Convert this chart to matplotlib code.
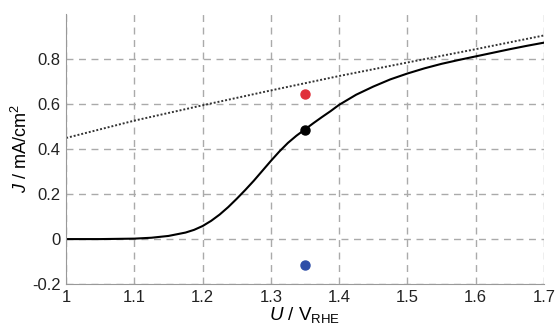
import matplotlib
matplotlib.use("Agg")
import matplotlib.pyplot as plt

plt.rcParams['font.family'] = ['Liberation Sans', 'DejaVu Sans']
plt.rcParams['mathtext.fontset'] = 'custom'
plt.rcParams['mathtext.rm'] = 'Liberation Sans'
plt.rcParams['mathtext.it'] = 'Liberation Sans:italic'

# measured curve
u = [1.0, 1.05, 1.1, 1.125, 1.15, 1.175, 1.1875, 1.2, 1.2125, 1.225, 1.2375, 1.25,
     1.2625, 1.275, 1.2875, 1.3, 1.3125, 1.325, 1.3375, 1.35, 1.3625, 1.375,
     1.3875, 1.4, 1.425, 1.45, 1.475, 1.5, 1.525, 1.55, 1.575, 1.6, 1.625,
     1.65, 1.675, 1.7]
j = [0.0, 0.0, 0.002, 0.006, 0.014, 0.029, 0.041, 0.058, 0.081, 0.109, 0.142, 0.179,
     0.218, 0.259, 0.303, 0.347, 0.389, 0.427, 0.459, 0.487, 0.515, 0.542,
     0.568, 0.596, 0.641, 0.677, 0.709, 0.735, 0.758, 0.778, 0.795, 0.811,
     0.827, 0.843, 0.858, 0.872]

# dotted reference line
u_ref = [1.0, 1.1, 1.2, 1.3, 1.4, 1.5, 1.6, 1.7]
j_ref = [0.449, 0.526, 0.594, 0.66, 0.724, 0.784, 0.843, 0.904]

# single points at 1.35 V
pt_u = [1.35, 1.35, 1.35]
pt_j = [0.644, 0.484, -0.116]
pt_c = ['#e0303a', 'black', '#2f4fa8']

xticks = [1, 1.1, 1.2, 1.3, 1.4, 1.5, 1.6, 1.7]
xlabels = ['1', '1.1', '1.2', '1.3', '1.4', '1.5', '1.6', '1.7']
yticks = [-0.2, 0, 0.2, 0.4, 0.6, 0.8]
ylabels = ['-0.2', '0', '0.2', '0.4', '0.6', '0.8']

fig = plt.figure(figsize=(5.56, 3.30), dpi=100)
ax = fig.add_axes([0.119, 0.139, 0.859, 0.819])

ax.plot(u_ref, j_ref, color='#333333', lw=1.4, ls=(0, (1, 1)))
ax.plot(u, j, color='black', lw=1.5)
for x, y, c in zip(pt_u, pt_j, pt_c):
    ax.plot(x, y, 'o', color=c, ms=6.5, zorder=5)

ax.set_xlim(1, 1.7)
ax.set_ylim(-0.2, 1.0)
ax.set_xticks(xticks)
ax.set_xticklabels(xlabels)
ax.set_yticks(yticks)
ax.set_yticklabels(ylabels)
ax.tick_params(length=0, labelsize=12, colors='#222222', pad=4)
ax.grid(True, color='#aaaaaa', ls=(0, (5, 4)), lw=1)

for s in ['top', 'right']:
    ax.spines[s].set_visible(False)
for s in ['left', 'bottom']:
    ax.spines[s].set_color('#999999')

ax.set_xlabel(r'$\it{U}$ / V$_\mathregular{RHE}$', fontsize=13.5, labelpad=0)
ax.set_ylabel(r'$\it{J}$ / mA/cm$^\mathregular{2}$', fontsize=13)
ax.yaxis.set_label_coords(-0.073, 0.5)

fig.savefig('out.png')
